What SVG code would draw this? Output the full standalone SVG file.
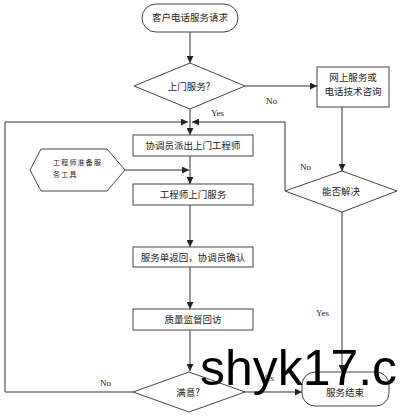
<svg xmlns="http://www.w3.org/2000/svg" width="400" height="416" viewBox="0 0 400 416">
<defs>
<style>
.s{fill:#fff;stroke:#444;stroke-width:1}
.t{font-family:"Noto Sans CJK SC","Liberation Sans",sans-serif;font-size:9.5px;fill:#222;text-anchor:middle}
.l{font-family:"Liberation Serif",serif;font-size:9px;fill:#222}
.c{fill:none;stroke:#333;stroke-width:1}
</style>
<marker id="a" viewBox="0 0 8 8" refX="8" refY="4" markerWidth="7" markerHeight="7" orient="auto" markerUnits="userSpaceOnUse">
<path d="M0,0 L8,4 L0,8 Z" fill="#222"/>
</marker>
</defs>
<rect width="400" height="416" fill="#fff"/>
<g id="connectors">
<path class="c" d="M190,32 V63" marker-end="url(#a)"/>
<path class="c" d="M245,86 H317" marker-end="url(#a)"/>
<path class="c" d="M190,109 V135" marker-end="url(#a)"/>
<path class="c" d="M133,392 H5 V122 H188" marker-end="url(#a)"/>
<path class="c" d="M285,191 V122 H192" marker-end="url(#a)"/>
<path class="c" d="M190,156 V184" marker-end="url(#a)"/>
<path class="c" d="M125,170 H189" marker-end="url(#a)"/>
<path class="c" d="M190,205 V247" marker-end="url(#a)"/>
<path class="c" d="M190,267 V309" marker-end="url(#a)"/>
<path class="c" d="M190,330 V371" marker-end="url(#a)"/>
<path class="c" d="M342,107 V171" marker-end="url(#a)"/>
<path class="c" d="M342,212 V372" marker-end="url(#a)"/>
<path class="c" d="M245,392 H302" marker-end="url(#a)"/>
<text class="l" x="266" y="104">No</text>
<text class="l" x="211" y="116">Yes</text>
<text class="l" x="300" y="170">No</text>
<text class="l" x="316" y="316">Yes</text>
<text class="l" x="100" y="386">No</text>
<text class="l" x="261" y="381">Yes</text>
</g>
<g id="start">
<rect class="s" x="142" y="4" width="96" height="28" rx="14"/>
<text class="t" x="190" y="21">客户电话服务请求</text>
</g>
<g id="d1">
<polygon class="s" points="190,63 245,86 190,109 134,86"/>
<text class="t" x="189" y="90">上门服务?</text>
</g>
<g id="online">
<rect class="s" x="317" y="67" width="72" height="40"/>
<text class="t" x="353" y="81">网上服务或</text>
<text class="t" x="353" y="95">电话技术咨询</text>
</g>
<g id="b1">
<rect class="s" x="133" y="135" width="120" height="21"/>
<text class="t" x="193" y="149">协调员派出上门工程师</text>
</g>
<g id="prep">
<polygon class="s" points="30,170 41,149 107,149 125,170 107,191 41,191"/>
<text style="font-family:'Noto Sans CJK SC',sans-serif;font-size:7px;fill:#222;letter-spacing:1.2px" x="53" y="165">工程师准备服</text>
<text style="font-family:'Noto Sans CJK SC',sans-serif;font-size:7px;fill:#222;letter-spacing:1.2px" x="53" y="177">务工具</text>
</g>
<g id="b2">
<rect class="s" x="133" y="184" width="120" height="21"/>
<text class="t" x="193" y="198">工程师上门服务</text>
</g>
<g id="d2">
<polygon class="s" points="342,171 397,191 342,212 285,191"/>
<text class="t" x="341" y="195">能否解决</text>
</g>
<g id="b3">
<rect class="s" x="133" y="247" width="120" height="20"/>
<text class="t" x="193" y="261">服务单返回，协调员确认</text>
</g>
<g id="b4">
<rect class="s" x="133" y="309" width="120" height="21"/>
<text class="t" x="193" y="323">质量监督回访</text>
</g>
<g id="d3">
<polygon class="s" points="189,372 245,392 189,412 133,392"/>
<text class="t" x="188" y="396">满意?</text>
</g>
<g id="end">
<rect class="s" x="302" y="372" width="87" height="34" rx="13"/>
<text class="t" x="345" y="396">服务结束</text>
</g>
<text x="200" y="385" style="font-family:'Liberation Sans',sans-serif;font-size:50px;fill:#000" textLength="197" lengthAdjust="spacingAndGlyphs">shyk17.c</text>
</svg>
